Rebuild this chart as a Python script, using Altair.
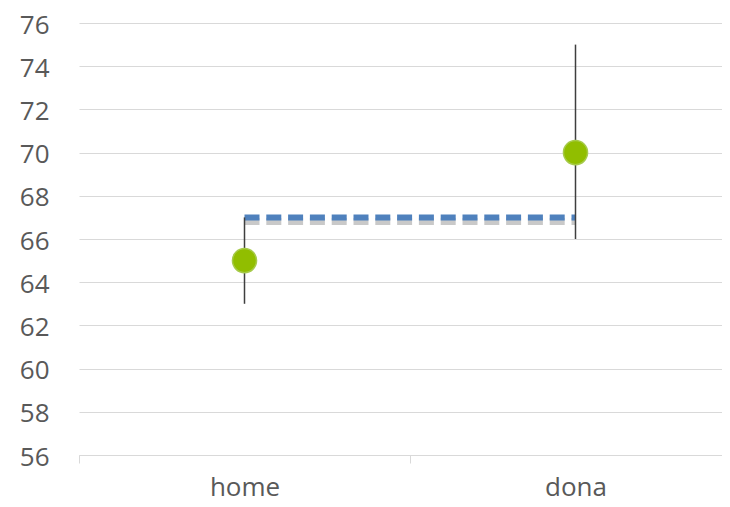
import altair as alt
import pandas as pd

categories = ["home", "dona"]
means = [65, 70]
lows = [63, 66]
highs = [67, 75]
reference = [67, 67]
y_ticks = [56, 58, 60, 62, 64, 66, 68, 70, 72, 74, 76]

df = pd.DataFrame({"cat": categories, "mean": means, "low": lows,
                   "high": highs, "ref": reference})

FONT = "Open Sans"

x_enc = alt.X(
    "cat:N", sort=categories, title=None,
    scale=alt.Scale(type="band", range=[0, 662], paddingInner=0, paddingOuter=0),
    axis=alt.Axis(tickBand="extent", grid=False, domainColor="#d9d9d9",
                  tickColor="#d9d9d9", tickSize=8, labelAngle=0,
                  labelFontSize=26, labelColor="#595959", labelPadding=11,
                  labelFont=FONT, domainWidth=1, tickWidth=1),
)

def y_enc(field):
    return alt.Y(
        f"{field}:Q", title=None,
        scale=alt.Scale(domain=[56, 76], nice=False, zero=False),
        axis=alt.Axis(values=y_ticks, domain=False, ticks=False,
                      gridColor="#d9d9d9", gridWidth=1, labelFontSize=26,
                      labelColor="#595959", labelPadding=30, labelFont=FONT,
                      labelOffset=2),
    )

base = alt.Chart(df).encode(x=x_enc)

shadow = base.mark_line(color="#7f7f7f", opacity=0.42, strokeWidth=7,
                        strokeDash=[15, 6.8], yOffset=4).encode(y=y_enc("ref"))
dashed = base.mark_line(color="#4F81BD", strokeWidth=6,
                        strokeDash=[15, 6.8]).encode(y=y_enc("ref"))
errors = base.mark_rule(color="#3f3f3f", strokeWidth=1.5).encode(
    y=y_enc("low"), y2="high:Q")
points = base.mark_point(filled=True, shape="circle", size=580, opacity=1,
                         fill="#91BE00", stroke="#A6CA4A", strokeWidth=1.5).encode(
    y=y_enc("mean"))

chart = alt.layer(shadow, dashed, errors, points).properties(
    width=643, height=432,
    autosize=alt.AutoSizeParams(type="none"),
    padding={"left": 71, "top": 15, "right": 0, "bottom": 44},
).configure_view(stroke=None)

chart.save("out.html", embed_options={"renderer": "svg", "actions": False})
